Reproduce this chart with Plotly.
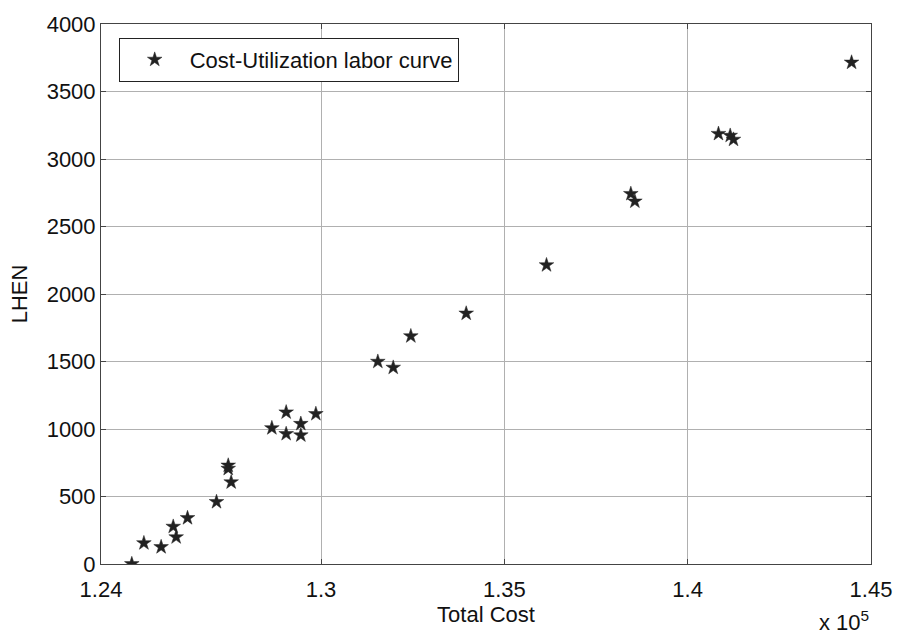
import plotly.graph_objects as go

# Total cost in units of 10^5
total_cost_e5 = [1.2484, 1.2517, 1.2564, 1.2597, 1.2605, 1.2636, 1.2715, 1.2747, 1.2747,
                 1.2755, 1.2866, 1.2905, 1.2905, 1.2945, 1.2945, 1.2986, 1.3155, 1.3197,
                 1.3245, 1.3396, 1.3615, 1.3845, 1.3856, 1.4084, 1.4116, 1.4125, 1.4447]
lhen = [0, 155, 126, 277, 199, 341, 460, 730, 706,
        606, 1007, 1124, 964, 1039, 954, 1112, 1499, 1455,
        1688, 1856, 2214, 2742, 2686, 3187, 3173, 3144, 3715]

x_tickvals = [1.24, 1.30, 1.35, 1.40, 1.45]
x_ticktext = ["1.24", "1.3", "1.35", "1.4", "1.45"]
y_tickvals = [0, 500, 1000, 1500, 2000, 2500, 3000, 3500, 4000]

FONT = "Liberation Sans, Arial, Helvetica, sans-serif"

fig = go.Figure()
fig.add_trace(go.Scatter(
    x=total_cost_e5, y=lhen, mode="markers",
    name="Cost-Utilization labor curve",
    marker=dict(symbol="star", size=11, color="#222222",
                line=dict(width=0.5, color="#222222")),
))

axis_common = dict(
    showgrid=True, gridcolor="#b0b0b0", gridwidth=1,
    showline=True, linecolor="#444444", linewidth=1, mirror="ticks",
    ticks="inside", ticklen=5, tickcolor="#444444",
    tickfont=dict(family=FONT, size=22, color="#111111"),
    zeroline=False,
)

fig.update_xaxes(range=[1.24, 1.45], tickvals=x_tickvals, ticktext=x_ticktext,
                 ticklabelstandoff=6,
                 title=dict(text="Total Cost", font=dict(family=FONT, size=22, color="#111111"),
                            standoff=2),
                 **axis_common)
fig.update_yaxes(range=[0, 4000], tickvals=y_tickvals,
                 title=dict(text="LHEN", font=dict(family=FONT, size=22, color="#111111"),
                            standoff=12),
                 **axis_common)

fig.add_annotation(xref="paper", yref="paper", x=1.0, y=-0.136, xanchor="right", yanchor="bottom",
                   text="x 10<sup>5</sup>", showarrow=False,
                   font=dict(family=FONT, size=22, color="#111111"))

fig.update_layout(
    width=904, height=639,
    margin=dict(l=101, r=25, t=16, b=75),
    paper_bgcolor="white", plot_bgcolor="white",
    showlegend=True,
    legend=dict(x=0.023, y=0.9745, xanchor="left", yanchor="top",
                bgcolor="white", bordercolor="#222222", borderwidth=1,
                font=dict(family=FONT, size=22, color="#111111"),
                itemwidth=60),
    font=dict(family=FONT),
)

fig.write_html("out.html")
